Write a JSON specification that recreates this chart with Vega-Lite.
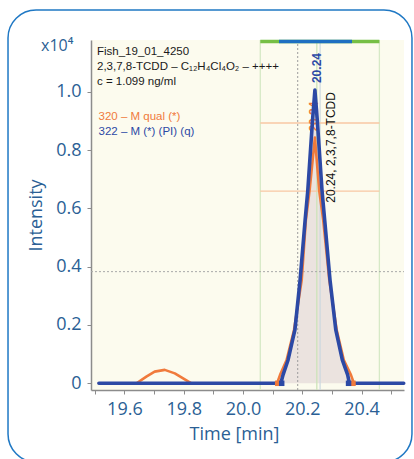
{
  "$schema": "https://vega.github.io/schema/vega-lite/v6.json",
  "width": 313,
  "height": 350,
  "autosize": {"type": "none"},
  "padding": {"left": 91, "top": 40, "right": 10, "bottom": 69},
  "background": "#ffffff",
  "title": {"text": "x10⁴", "anchor": "start", "frame": "group", "dx": -50, "offset": -58, "baseline": "alphabetic", "font": "Open Sans", "fontSize": 16, "fontWeight": "normal", "color": "#2b5f95"},
  "datasets": {
    "trace": [
      {"series": "322 – M (*) (PI) (q)", "rt": 19.514, "intensity": 0},
      {"series": "322 – M (*) (PI) (q)", "rt": 20.1275, "intensity": 0},
      {"series": "322 – M (*) (PI) (q)", "rt": 20.135, "intensity": 0.029},
      {"series": "322 – M (*) (PI) (q)", "rt": 20.152, "intensity": 0.08},
      {"series": "322 – M (*) (PI) (q)", "rt": 20.175, "intensity": 0.183},
      {"series": "322 – M (*) (PI) (q)", "rt": 20.1925, "intensity": 0.354},
      {"series": "322 – M (*) (PI) (q)", "rt": 20.2095, "intensity": 0.56},
      {"series": "322 – M (*) (PI) (q)", "rt": 20.2185, "intensity": 0.661},
      {"series": "322 – M (*) (PI) (q)", "rt": 20.2345, "intensity": 0.903},
      {"series": "322 – M (*) (PI) (q)", "rt": 20.2425, "intensity": 1.006},
      {"series": "322 – M (*) (PI) (q)", "rt": 20.2505, "intensity": 0.903},
      {"series": "322 – M (*) (PI) (q)", "rt": 20.2665, "intensity": 0.661},
      {"series": "322 – M (*) (PI) (q)", "rt": 20.2755, "intensity": 0.56},
      {"series": "322 – M (*) (PI) (q)", "rt": 20.2935, "intensity": 0.354},
      {"series": "322 – M (*) (PI) (q)", "rt": 20.313, "intensity": 0.183},
      {"series": "322 – M (*) (PI) (q)", "rt": 20.335, "intensity": 0.08},
      {"series": "322 – M (*) (PI) (q)", "rt": 20.353, "intensity": 0.029},
      {"series": "322 – M (*) (PI) (q)", "rt": 20.359, "intensity": 0},
      {"series": "322 – M (*) (PI) (q)", "rt": 20.542, "intensity": 0},
      {"series": "320 – M qual (*)", "rt": 19.514, "intensity": 0},
      {"series": "320 – M qual (*)", "rt": 19.641, "intensity": 0},
      {"series": "320 – M qual (*)", "rt": 19.674, "intensity": 0.023},
      {"series": "320 – M qual (*)", "rt": 19.702, "intensity": 0.04},
      {"series": "320 – M qual (*)", "rt": 19.736, "intensity": 0.046},
      {"series": "320 – M qual (*)", "rt": 19.77, "intensity": 0.034},
      {"series": "320 – M qual (*)", "rt": 19.798, "intensity": 0.017},
      {"series": "320 – M qual (*)", "rt": 19.826, "intensity": 0},
      {"series": "320 – M qual (*)", "rt": 20.115, "intensity": 0},
      {"series": "320 – M qual (*)", "rt": 20.125, "intensity": 0.029},
      {"series": "320 – M qual (*)", "rt": 20.147, "intensity": 0.08},
      {"series": "320 – M qual (*)", "rt": 20.172, "intensity": 0.183},
      {"series": "320 – M qual (*)", "rt": 20.198, "intensity": 0.354},
      {"series": "320 – M qual (*)", "rt": 20.212, "intensity": 0.56},
      {"series": "320 – M qual (*)", "rt": 20.2245, "intensity": 0.661},
      {"series": "320 – M qual (*)", "rt": 20.2425, "intensity": 0.843},
      {"series": "320 – M qual (*)", "rt": 20.257, "intensity": 0.661},
      {"series": "320 – M qual (*)", "rt": 20.2705, "intensity": 0.56},
      {"series": "320 – M qual (*)", "rt": 20.291, "intensity": 0.354},
      {"series": "320 – M qual (*)", "rt": 20.316, "intensity": 0.183},
      {"series": "320 – M qual (*)", "rt": 20.34, "intensity": 0.08},
      {"series": "320 – M qual (*)", "rt": 20.364, "intensity": 0.029},
      {"series": "320 – M qual (*)", "rt": 20.374, "intensity": 0},
      {"series": "320 – M qual (*)", "rt": 20.542, "intensity": 0}
    ],
    "markers": [
      {"series": "320 – M qual (*)", "rt": 20.117, "intensity": 0},
      {"series": "320 – M qual (*)", "rt": 20.371, "intensity": 0},
      {"series": "322 – M (*) (PI) (q)", "rt": 20.1305, "intensity": 0},
      {"series": "322 – M (*) (PI) (q)", "rt": 20.356, "intensity": 0}
    ],
    "peaks": [
      {"series": "320 – M qual (*)", "rt": 20.2425, "intensity": 0.843, "label": "20.24", "compound": ""},
      {"series": "322 – M (*) (PI) (q)", "rt": 20.2425, "intensity": 1.006, "label": "20.24", "compound": "20.24, 2,3,7,8-TCDD"}
    ],
    "vlines": [
      {"rt": 20.0583, "kind": "window"},
      {"rt": 20.46, "kind": "window"},
      {"rt": 20.1845, "kind": "marker"},
      {"rt": 20.249, "kind": "apexA"},
      {"rt": 20.26, "kind": "apexB"}
    ],
    "hlines": [
      {"intensity": 0.893, "kind": "qual", "start": 20.0583, "end": 20.46},
      {"intensity": 0.659, "kind": "qual", "start": 20.0583, "end": 20.46},
      {"intensity": 0.383, "kind": "threshold", "start": 19.4873, "end": 20.543}
    ],
    "bands": [
      {"start": 20.0583, "end": 20.46, "kind": "window"},
      {"start": 20.1214, "end": 20.3676, "kind": "peak"}
    ]
  },
  "resolve": {"axis": {"x": "independent"}},
  "layer": [
    {
      "data": {"values": [{}]},
      "mark": {"type": "rect", "filled": false, "stroke": "#1f78c4", "strokeWidth": 1.5, "cornerRadius": 28, "clip": false},
      "encoding": {
        "x": {"datum": 19.2074, "type": "quantitative", "axis": {"orient": "bottom", "values": [19.5, 19.7, 19.9, 20.1, 20.3, 20.5], "labels": false, "title": null, "domain": false, "ticks": true}},
        "x2": {"datum": 20.5699},
        "y": {"datum": 1.2806, "type": "quantitative"},
        "y2": {"datum": -0.27}
      }
    },
    {
      "layer": [
        {
          "data": {"name": "trace"},
          "transform": [{"filter": "datum.series == '322 – M (*) (PI) (q)' && datum.rt > 20.1 && datum.rt < 20.4"}],
          "mark": {"type": "area", "color": "#ebe3df", "opacity": 1},
          "encoding": {
            "x": {"field": "rt", "type": "quantitative", "scale": {"domain": [19.4873, 20.543], "nice": false, "zero": false}, "axis": {"orient": "bottom", "title": "Time [min]", "values": [19.6, 19.8, 20.0, 20.2, 20.4], "format": ".1f", "labelOverlap": false, "labelFlush": false, "titleX": 143}},
            "y": {"field": "intensity", "type": "quantitative", "scale": {"domain": [-0.023, 1.1777], "nice": false, "zero": false}, "axis": {"title": "Intensity", "values": [0, 0.1, 0.2, 0.3, 0.4, 0.5, 0.6, 0.7, 0.8, 0.9, 1.0, 1.1], "labelOverlap": false, "labelExpr": "datum.value == 0 ? '0' : (round(datum.value*10) % 2 == 0 ? format(datum.value, '.1f') : '')"}}
          }
        },
        {
          "data": {"name": "vlines"},
          "transform": [{"filter": "datum.kind == 'window'"}],
          "mark": {"type": "rule", "color": "#d6e9c6", "strokeWidth": 1.3},
          "encoding": {"x": {"field": "rt", "type": "quantitative"}}
        },
        {
          "data": {"name": "vlines"},
          "transform": [{"filter": "datum.kind == 'apexA'"}],
          "mark": {"type": "rule", "color": "#c9e3b6", "strokeWidth": 1.2},
          "encoding": {"x": {"field": "rt", "type": "quantitative"}}
        },
        {
          "data": {"name": "vlines"},
          "transform": [{"filter": "datum.kind == 'apexB'"}],
          "mark": {"type": "rule", "color": "#cbd8e0", "strokeWidth": 1.2},
          "encoding": {"x": {"field": "rt", "type": "quantitative"}}
        },
        {
          "data": {"name": "vlines"},
          "transform": [{"filter": "datum.kind == 'marker'"}],
          "mark": {"type": "rule", "color": "#9c9c9c", "strokeWidth": 1, "strokeDash": [2, 2]},
          "encoding": {"x": {"field": "rt", "type": "quantitative"}}
        },
        {
          "data": {"name": "hlines"},
          "transform": [{"filter": "datum.kind == 'qual'"}],
          "mark": {"type": "rule", "color": "#f8c7a3", "strokeWidth": 1.3},
          "encoding": {
            "x": {"field": "start", "type": "quantitative"},
            "x2": {"field": "end"},
            "y": {"field": "intensity", "type": "quantitative"}
          }
        },
        {
          "data": {"name": "hlines"},
          "transform": [{"filter": "datum.kind == 'threshold'"}],
          "mark": {"type": "rule", "color": "#a8a8a8", "strokeWidth": 1, "strokeDash": [2, 2]},
          "encoding": {
            "x": {"field": "start", "type": "quantitative"},
            "x2": {"field": "end"},
            "y": {"field": "intensity", "type": "quantitative"}
          }
        },
        {
          "data": {"name": "bands"},
          "transform": [{"filter": "datum.kind == 'window'"}],
          "mark": {"type": "rule", "color": "#76bf45", "strokeWidth": 3.5, "strokeCap": "butt"},
          "encoding": {
            "x": {"field": "start", "type": "quantitative"},
            "x2": {"field": "end"},
            "y": {"datum": 1.1726, "type": "quantitative"}
          }
        },
        {
          "data": {"name": "bands"},
          "transform": [{"filter": "datum.kind == 'peak'"}],
          "mark": {"type": "rule", "color": "#1e6fc1", "strokeWidth": 3.5, "strokeCap": "butt"},
          "encoding": {
            "x": {"field": "start", "type": "quantitative"},
            "x2": {"field": "end"},
            "y": {"datum": 1.1726, "type": "quantitative"}
          }
        },
        {
          "data": {"name": "peaks"},
          "transform": [{"filter": "datum.series == '320 – M qual (*)'"}],
          "mark": {"type": "text", "angle": 270, "align": "left", "baseline": "middle", "dx": 6, "dy": -1, "font": "Liberation Sans", "fontSize": 12, "fontWeight": "bold", "color": "#f07a3c"},
          "encoding": {
            "x": {"field": "rt", "type": "quantitative"},
            "y": {"field": "intensity", "type": "quantitative"},
            "text": {"field": "label"}
          }
        },
        {
          "data": {"name": "trace"},
          "transform": [{"filter": "datum.series == '320 – M qual (*)'"}],
          "mark": {"type": "line", "strokeJoin": "round", "strokeCap": "round", "strokeWidth": 2.6},
          "encoding": {
            "x": {"field": "rt", "type": "quantitative"},
            "y": {"field": "intensity", "type": "quantitative"},
            "color": {
              "field": "series", "type": "nominal",
              "scale": {"domain": ["320 – M qual (*)", "322 – M (*) (PI) (q)"], "range": ["#f07a3c", "#2c49a5"]},
              "legend": {
                "title": ["Fish_19_01_4250", "2,3,7,8-TCDD – C₁₂H₄Cl₄O₂ – ++++", "c = 1.099 ng/ml"],
                "encode": {"labels": {"update": {"fill": {"signal": "datum.value == '320 – M qual (*)' ? '#f07a3c' : '#2c49a5'"}}}}
              }
            }
          }
        },
        {
          "data": {"name": "trace"},
          "transform": [{"filter": "datum.series == '322 – M (*) (PI) (q)'"}],
          "mark": {"type": "line", "strokeJoin": "round", "strokeCap": "round", "strokeWidth": 3.6},
          "encoding": {
            "x": {"field": "rt", "type": "quantitative"},
            "y": {"field": "intensity", "type": "quantitative"},
            "color": {"field": "series", "type": "nominal"}
          }
        },
        {
          "data": {"name": "markers"},
          "mark": {"type": "point", "shape": "square", "filled": true, "size": 30, "opacity": 1},
          "encoding": {
            "x": {"field": "rt", "type": "quantitative"},
            "y": {"field": "intensity", "type": "quantitative"},
            "color": {"field": "series", "type": "nominal"}
          }
        },
        {
          "data": {"name": "peaks"},
          "transform": [{"filter": "datum.series == '322 – M (*) (PI) (q)'"}],
          "mark": {"type": "text", "angle": 270, "align": "left", "baseline": "middle", "dx": 7, "dy": 2, "font": "Liberation Sans", "fontSize": 12, "fontWeight": "bold", "color": "#2c49a5"},
          "encoding": {
            "x": {"field": "rt", "type": "quantitative"},
            "y": {"field": "intensity", "type": "quantitative"},
            "text": {"field": "label"}
          }
        },
        {
          "data": {"name": "peaks"},
          "transform": [{"filter": "datum.series == '322 – M (*) (PI) (q)'"}],
          "mark": {"type": "text", "angle": 270, "align": "right", "baseline": "middle", "dx": -2, "dy": 16, "font": "Liberation Sans", "fontSize": 12, "color": "#111111"},
          "encoding": {
            "x": {"field": "rt", "type": "quantitative"},
            "y": {"field": "intensity", "type": "quantitative"},
            "text": {"field": "compound"}
          }
        }
      ]
    }
  ],
  "config": {
    "view": {"fill": "#fcfbee", "stroke": null},
    "axis": {
      "grid": false,
      "domainColor": "#8c8c8c",
      "domainWidth": 1.5,
      "tickColor": "#8c8c8c",
      "tickSize": 4,
      "tickWidth": 1,
      "labelFont": "Open Sans",
      "labelFontSize": 18,
      "labelColor": "#2b5f95",
      "labelPadding": 6,
      "labelOverlap": false,
      "labelFlush": false,
      "titleFont": "Open Sans",
      "titleFontSize": 18,
      "titleFontWeight": "normal",
      "titleColor": "#2b5f95"
    },
    "axisX": {"titlePadding": 7},
    "axisY": {"titlePadding": 10},
    "legend": {
      "orient": "top-left",
      "offset": 6,
      "padding": 0,
      "titleFont": "Liberation Sans",
      "titleFontSize": 11.5,
      "titleFontWeight": "normal",
      "titleColor": "#1a1a1a",
      "titleLineHeight": 15,
      "titlePadding": 24,
      "titleLimit": 400,
      "labelFont": "Liberation Sans",
      "labelFontSize": 11.5,
      "labelLimit": 300,
      "labelOffset": -10,
      "symbolSize": 0,
      "symbolOpacity": 0,
      "symbolStrokeWidth": 0,
      "rowPadding": 2
    }
  }
}
